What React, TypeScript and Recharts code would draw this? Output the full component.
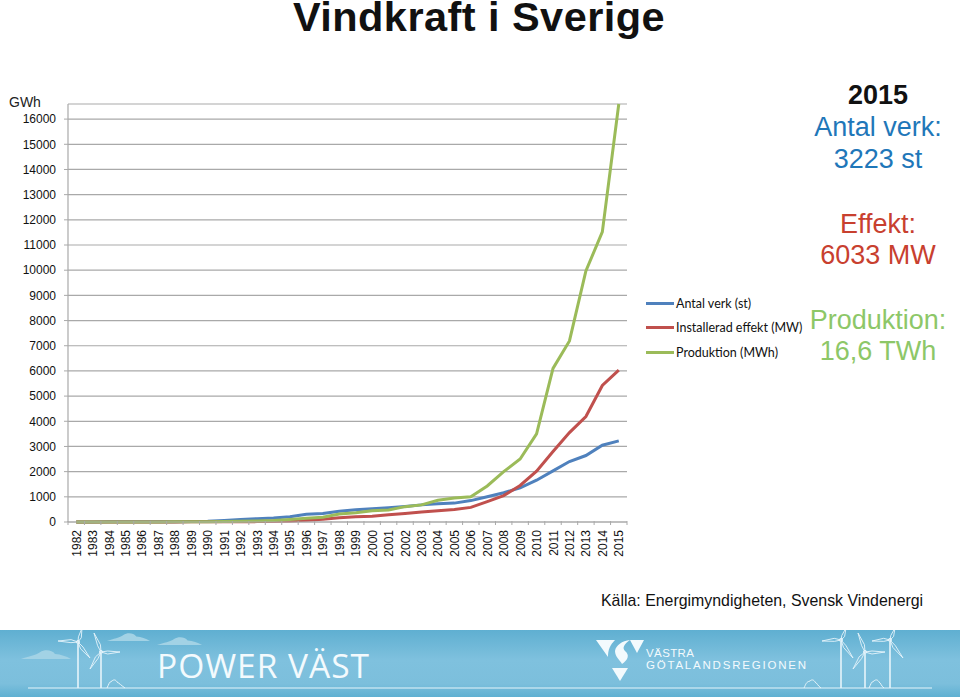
import React from 'react';
import { LineChart, Line, XAxis, YAxis, CartesianGrid, Legend } from 'recharts';

const years = [
  '1982', '1983', '1984', '1985', '1986', '1987', '1988', '1989', '1990', '1991', '1992', '1993',
  '1994', '1995', '1996', '1997', '1998', '1999', '2000', '2001', '2002', '2003', '2004', '2005',
  '2006', '2007', '2008', '2009', '2010', '2011', '2012', '2013', '2014', '2015',
];
const antalVerk = [
  3, 4, 5, 6, 7, 8, 12, 18, 30, 60, 100, 130, 160, 210, 310, 340, 430, 490, 530, 570, 620, 680,
  720, 750, 850, 1000, 1160, 1360, 1660, 2030, 2400, 2640, 3050, 3223,
];
const effekt = [
  1, 1, 1, 2, 2, 3, 4, 5, 6, 8, 10, 15, 25, 40, 70, 110, 170, 210, 230, 290, 340, 400, 450, 500,
  580, 810, 1050, 1450, 2020, 2800, 3550, 4190, 5420, 6033,
];
const produktion = [
  1, 2, 2, 3, 3, 4, 6, 9, 14, 22, 30, 40, 60, 100, 150, 190, 320, 370, 450, 480, 610, 680, 860,
  950, 1000, 1430, 2000, 2500, 3500, 6100, 7190, 9970, 11520, 16600,
];
const yTicks = [
  0, 1000, 2000, 3000, 4000, 5000, 6000, 7000, 8000, 9000, 10000, 11000, 12000, 13000, 14000,
  15000, 16000,
];

const chartData = years.map((year, i) => ({
  year,
  antal: antalVerk[i],
  effekt: effekt[i],
  produktion: produktion[i],
}));

const BLUE = '#4F81BD';
const RED = '#C0504D';
const GREEN = '#9BBB59';
const GRID = '#A9A9A9';
const PALE = '#E6F4FA';
const ARIAL = '"Liberation Sans", Arial, sans-serif';
const BAND = 559 / years.length;

const YearTick = (props: any) => {
  const { x, y, payload, index } = props;
  return (
    <g>
      <line x1={x - BAND / 2} x2={x - BAND / 2} y1={y - 9} y2={y - 5} stroke={GRID} />
      {index === years.length - 1 && (
        <line x1={x + BAND / 2} x2={x + BAND / 2} y1={y - 9} y2={y - 5} stroke={GRID} />
      )}
      <text
        transform={`translate(${x + 4.5},${y}) rotate(-90)`}
        textAnchor="end"
        fontSize={12}
        fontFamily={ARIAL}
        fill="#111"
      >
        {payload.value}
      </text>
    </g>
  );
};

const LegendRows = (props: any) => (
  <div>
    {props.payload.map((entry: any) => (
      <div key={entry.value} style={{ display: 'flex', alignItems: 'center', height: 24.5 }}>
        <div style={{ width: 28, height: 3, background: entry.color, marginRight: 2 }} />
        <span style={{ font: '12.5px Lato, sans-serif', color: '#111', whiteSpace: 'nowrap' }}>
          {entry.value}
        </span>
      </div>
    ))}
  </div>
);

const Label = ({ top, color, size, bold, children }: any) => (
  <div
    style={{
      position: 'absolute',
      left: 778,
      width: 200,
      top,
      textAlign: 'center',
      color,
      fontSize: size,
      fontWeight: bold ? 700 : 400,
      lineHeight: '32px',
      whiteSpace: 'nowrap',
    }}
  >
    {children}
  </div>
);

// thin outlined blade from the hub out to its tip
const Blade = ({ hx, hy, tx, ty }: any) => {
  const mx = hx + (tx - hx) * 0.35;
  const my = hy + (ty - hy) * 0.35;
  const len = Math.hypot(tx - hx, ty - hy);
  const nx = (-(ty - hy) / len) * 2;
  const ny = ((tx - hx) / len) * 2;
  return <path d={`M${hx} ${hy}L${mx + nx} ${my + ny}L${tx} ${ty}L${mx - nx / 2} ${my - ny / 2}Z`} />;
};

const Turbine = ({ x, hub, tips }: { x: number; hub: number; tips: number[][] }) => (
  <g stroke={PALE} strokeWidth={0.9} fill="none">
    <path d={`M${x} 688V${hub + 2}`} strokeWidth={1.6} />
    {tips.map((t, i) => (
      <Blade key={i} hx={x} hy={hub} tx={t[0]} ty={t[1]} />
    ))}
    <circle cx={x} cy={hub} r={1.6} />
  </g>
);

const Cloud = ({ x, y, w, h }: { x: number; y: number; w: number; h: number }) => (
  <path
    d={`M${x} ${y}C${x + w * 0.15} ${y - h * 0.3} ${x + w * 0.3} ${y - h * 0.4} ${x + w * 0.38} ${y - h * 0.75}C${x + w * 0.48} ${y - h * 1.1} ${x + w * 0.62} ${y - h} ${x + w * 0.68} ${y - h * 0.55}C${x + w * 0.8} ${y - h * 0.5} ${x + w * 0.9} ${y - h * 0.3} ${x + w} ${y}Z`}
    fill="#A2D2E5"
  />
);

const House = ({ x0, x1, peak }: { x0: number; x1: number; peak: number }) => (
  <path
    d={`M${x0} 688C${x0 + 2} 684 ${x0 + 2} 682 ${peak - 2} 681C${peak} 679 ${peak + 2} 680 ${peak + 3} 682C${peak + 5} 683 ${x1 - 3} 686 ${x1} 688`}
    stroke={PALE}
    fill="none"
  />
);

const Banner = () => (
  <div
    style={{
      position: 'absolute',
      left: 0,
      top: 630,
      width: 960,
      height: 67,
      overflow: 'hidden',
      background: 'linear-gradient(180deg, #5FAFD1 0%, #7FC1DE 45%, #7CBFDC 80%, #5FB0D2 100%)',
    }}
  >
    <svg width={960} height={697} style={{ position: 'absolute', left: 0, top: -630 }}>
      <path d="M28 688H932" stroke={PALE} strokeWidth={1} />
      <Cloud x={21} y={659} w={50} h={9} />
      <Cloud x={107} y={641} w={43} h={8} />
      <Cloud x={157} y={645} w={45} h={8} />
      <Turbine x={78} hub={642} tips={[[58, 641], [82, 628], [90, 658]]} />
      <Turbine x={101} hub={652} tips={[[94, 633], [120, 652], [90, 669]]} />
      <Turbine x={841} hub={640} tips={[[822, 641], [846, 628], [853, 658]]} />
      <Turbine x={865} hub={652} tips={[[858, 633], [885, 652], [853, 669]]} />
      <Turbine x={890} hub={640} tips={[[872, 641], [895, 628], [903, 658]]} />
      <House x0={107} x1={125} peak={114} />
      <House x0={804} x1={821} peak={812} />
      <House x0={869} x1={884} peak={876} />
      <path d="M596 640H615C610 645 608 650 608 657Z" fill="#F3FAFD" />
      <path d="M630 640H644L637 653Z" fill="#F3FAFD" />
      <path d="M612 668H628L620 681Z" fill="#F3FAFD" />
      <path
        d="M630 640C622 641 616 645 615 651C615 657 620 660 622 664C628 660 630 655 625 651C622 648 624 644 630 640Z"
        fill="#F3FAFD"
      />
      <text x={157} y={678} fontFamily="Open Sans" fontSize={33.5} fill="#F3FAFD" textLength={212} lengthAdjust="spacing">
        POWER VÄST
      </text>
      <text x={646} y={657} fontFamily="Liberation Sans" fontSize={11.5} fill="#F3FAFD" textLength={48} lengthAdjust="spacing">
        VÄSTRA
      </text>
      <text x={646} y={669} fontFamily="Liberation Sans" fontSize={11.5} fill="#F3FAFD" textLength={160} lengthAdjust="spacing">
        GÖTALANDSREGIONEN
      </text>
    </svg>
  </div>
);

export default function App() {
  return (
    <div
      style={{
        position: 'absolute',
        left: 0,
        top: 0,
        width: 960,
        height: 697,
        background: '#fff',
        overflow: 'hidden',
        fontFamily: ARIAL,
      }}
    >
      <LineChart
        width={960}
        height={697}
        data={chartData}
        margin={{ top: 104, right: 333, bottom: 125, left: 0 }}
      >
        <CartesianGrid horizontal vertical={false} stroke={GRID} strokeWidth={1.2} />
        <XAxis
          dataKey="year"
          interval={0}
          height={50}
          padding={{ left: BAND / 2, right: BAND / 2 }}
          axisLine={{ stroke: GRID, strokeWidth: 1.2 }}
          tickLine={false}
          tick={<YearTick />}
        />
        <YAxis
          width={68}
          domain={[0, 16600]}
          ticks={yTicks}
          interval={0}
          tickSize={4}
          tickMargin={8}
          axisLine={{ stroke: GRID, strokeWidth: 1.2 }}
          tickLine={{ stroke: GRID }}
          tick={{ fontSize: 12, fontFamily: ARIAL, fill: '#111' }}
        />
        <Legend
          layout="vertical"
          align="center"
          verticalAlign="middle"
          wrapperStyle={{ left: 646, top: 291, width: 170 }}
          content={<LegendRows />}
        />
        <Line dataKey="antal" name="Antal verk (st)" stroke={BLUE} strokeWidth={3} dot={false} isAnimationActive={false} />
        <Line dataKey="effekt" name="Installerad effekt (MW)" stroke={RED} strokeWidth={3} dot={false} isAnimationActive={false} />
        <Line dataKey="produktion" name="Produktion (MWh)" stroke={GREEN} strokeWidth={3} dot={false} isAnimationActive={false} />
      </LineChart>

      <div
        style={{
          position: 'absolute',
          left: 0,
          top: 1,
          width: 958,
          textAlign: 'center',
          fontSize: 41.5,
          letterSpacing: 0.45,
          fontWeight: 700,
          lineHeight: '32px',
          color: '#111',
          whiteSpace: 'nowrap',
        }}
      >
        Vindkraft i Sverige
      </div>
      <div style={{ position: 'absolute', left: 9, top: 94, fontSize: 14, color: '#222' }}>GWh</div>

      <Label top={79} color="#111" size={27} bold>2015</Label>
      <Label top={111} color="#1F77B9" size={27}>Antal verk:</Label>
      <Label top={143} color="#1F77B9" size={27}>3223 st</Label>
      <Label top={208} color="#C8402F" size={27}>Effekt:</Label>
      <Label top={239} color="#C8402F" size={27}>6033 MW</Label>
      <Label top={304} color="#8DC768" size={27}>Produktion:</Label>
      <Label top={335} color="#8DC768" size={27}>16,6 TWh</Label>

      <div style={{ position: 'absolute', left: 601, top: 592, fontSize: 15.9, color: '#111', whiteSpace: 'nowrap' }}>
        Källa: Energimyndigheten, Svensk Vindenergi
      </div>
      <Banner />
    </div>
  );
}
